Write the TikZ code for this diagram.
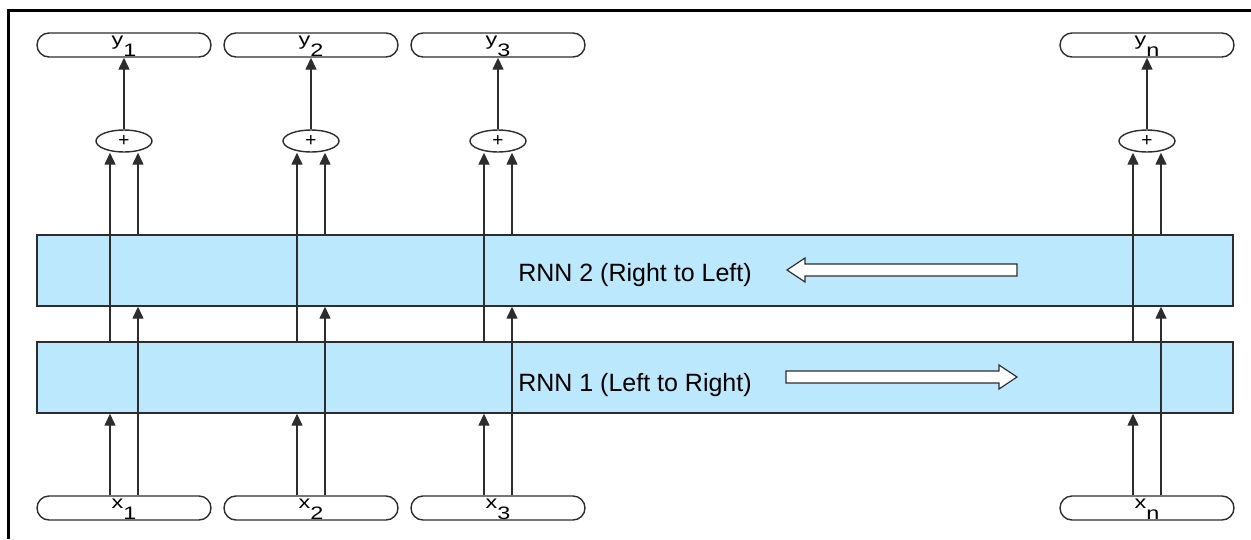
\documentclass[tikz,border=0pt]{standalone}
\usepackage{fontspec}
\setmainfont{Liberation Sans}
\usetikzlibrary{arrows.meta,shapes.misc,shapes.geometric}

\definecolor{rnnblue}{RGB}{187,232,252}
\definecolor{edge}{RGB}{45,45,45}

% sequence label: letter with a lowered, full-size index
\newcommand\seqlbl[2]{\scalebox{1.3}[1]{#1\raisebox{-11.5pt}{#2}}}

\begin{document}
\begin{tikzpicture}[x=1pt,y=-1pt,
  pill/.style={rounded rectangle, draw=edge, line width=1.4pt,
    minimum width=174pt, minimum height=24pt, inner sep=0pt,
    text height=0pt, text depth=0pt, font=\fontsize{18}{18}\selectfont},
  sumnode/.style={ellipse, draw=edge, line width=1.4pt,
    minimum width=56pt, minimum height=22pt, inner sep=0pt,
    font=\fontsize{19}{19}\selectfont},
  layer/.style={rectangle, draw=edge, line width=1.4pt, fill=rnnblue,
    minimum width=1196pt, minimum height=71pt, inner sep=0pt,
    text depth=0pt, font=\fontsize{25}{25}\selectfont},
  arr/.style={draw=edge, line width=1.4pt, -{Triangle[length=12pt,width=11pt]}},
  hollow/.style={draw=edge, line width=1.2pt, fill=white, line join=miter},
]
\useasboundingbox (0,0) rectangle (1251,539);

% frame
\draw[line width=3pt, line join=miter] (8.7,539) -- (8.7,10.3) -- (1251,10.3);

% recurrent layers
\node[layer, text height=22.4pt] (r2) at (635,270.5) {RNN 2 (Right to Left)};
\node[layer, text height=27pt]   (r1) at (635,377.5) {RNN 1 (Left to Right)};

% direction arrows
\draw[hollow] (1017,264) -- (805,264) -- (805,258) -- (787,270)
  -- (805,282) -- (805,276) -- (1017,276) -- cycle;
\draw[hollow] (786,371) -- (999,371) -- (999,365) -- (1017,377)
  -- (999,389) -- (999,383) -- (786,383) -- cycle;

% columns: inputs, sums, outputs
\foreach \c/\i in {124/1,311/2,498/3,1147/n}{
  \node[pill] (x\i) at (\c,508) {\seqlbl{x}{\i}};
  \node[pill] (y\i) at (\c,45) {\seqlbl{y}{\i}};
  \node[sumnode] (p\i) at (\c,141) {+};
  % forward path
  \draw[arr] ([xshift=-14pt]x\i.north) -- ([xshift=-14pt]x\i.north |- r1.south);
  \draw[arr] ([xshift=-14pt]p\i.south |- r1.north) -- ([xshift=-14pt]p\i.south);
  % backward path
  \draw[arr] ([xshift=14pt]x\i.north) -- ([xshift=14pt]x\i.north |- r2.south);
  \draw[arr] ([xshift=14pt]p\i.south |- r2.north) -- ([xshift=14pt]p\i.south);
  % output
  \draw[arr] (p\i.north) -- (y\i.south);
}
\end{tikzpicture}
\end{document}
